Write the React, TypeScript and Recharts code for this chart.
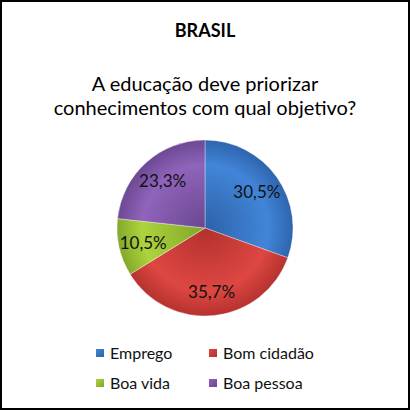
import React from "react";
import { PieChart, Pie, Cell, Legend } from "recharts";

const categories = ["Emprego", "Bom cidadão", "Boa vida", "Boa pessoa"];
const shares = [30.5, 35.7, 10.5, 23.3];
const colors = ["#4285D8", "#DE4742", "#ADD43C", "#8F64BB"];
const darkColors = ["#2C62AA", "#B3302D", "#80A52A", "#6A4690"];

const data = categories.map((name, i) => ({ name, value: shares[i] }));

const FONT = "Lato, 'Open Sans', sans-serif";
const RADIAN = Math.PI / 180;

const fmt = (v: number) => v.toFixed(1).replace(".", ",") + "%";

function renderLabel(props: any) {
  const { cx, cy, midAngle, outerRadius, value } = props;
  const r = outerRadius * 0.72;
  const x = cx + r * Math.cos(-midAngle * RADIAN);
  const y = cy + r * Math.sin(-midAngle * RADIAN);
  return (
    <text
      x={x}
      y={y}
      textAnchor="middle"
      dominantBaseline="central"
      fontSize={17}
      fontFamily={FONT}
      fill="#111"
    >
      {fmt(value)}
    </text>
  );
}

function LegendGrid() {
  return (
    <div
      style={{
        display: "grid",
        gridTemplateColumns: "113px 120px",
        rowGap: 11,
        paddingLeft: 96,
        fontFamily: FONT,
        fontSize: 16,
        color: "#111",
      }}
    >
      {categories.map((c, i) => (
        <div key={c} style={{ display: "flex", alignItems: "center", height: 19 }}>
          <span
            style={{
              width: 8,
              height: 8,
              marginRight: 6,
              background: `linear-gradient(135deg, ${colors[i]}, ${darkColors[i]})`,
              display: "inline-block",
            }}
          />
          {c}
        </div>
      ))}
    </div>
  );
}

export default function App() {
  return (
    <div
      style={{
        position: "fixed",
        left: 0,
        top: 0,
        width: 410,
        height: 410,
        boxSizing: "border-box",
        border: "2px solid #000",
        background: "#fff",
        overflow: "hidden",
      }}
    >
      <div
        style={{
          position: "absolute",
          left: -2,
          top: 17,
          width: 410,
          textAlign: "center",
          fontFamily: FONT,
          fontWeight: 700,
          fontSize: 18,
          color: "#000",
        }}
      >
        BRASIL
      </div>
      <div
        style={{
          position: "absolute",
          left: -2,
          top: 69,
          width: 410,
          textAlign: "center",
          fontFamily: FONT,
          fontSize: 20,
          lineHeight: "24px",
          color: "#000",
        }}
      >
        A educação deve priorizar
        <br />
        conhecimentos com qual objetivo?
      </div>
      <div style={{ position: "absolute", left: -2, top: -2 }}>
        <PieChart width={410} height={410} margin={{ top: 0, right: 0, bottom: 0, left: 0 }}>
          <defs>
            {colors.map((c, i) => (
              <radialGradient
                key={c}
                id={`g${i}`}
                cx={205}
                cy={228}
                r={90}
                gradientUnits="userSpaceOnUse"
              >
                <stop offset="0%" stopColor={darkColors[i]} />
                <stop offset="70%" stopColor={colors[i]} />
                <stop offset="100%" stopColor={darkColors[i]} />
              </radialGradient>
            ))}
          </defs>
          <Pie
            data={data}
            dataKey="value"
            nameKey="name"
            cx={205}
            cy={228}
            outerRadius={88}
            startAngle={90}
            endAngle={-270}
            stroke="rgba(255,255,255,0.35)"
            strokeWidth={1}
            label={renderLabel}
            labelLine={false}
            isAnimationActive={false}
          >
            {data.map((d, i) => (
              <Cell key={d.name} fill={`url(#g${i})`} />
            ))}
          </Pie>
          <Legend
            content={() => <LegendGrid />}
            wrapperStyle={{ position: "absolute", left: 0, top: 343, width: 410 }}
          />
        </PieChart>
      </div>
    </div>
  );
}
